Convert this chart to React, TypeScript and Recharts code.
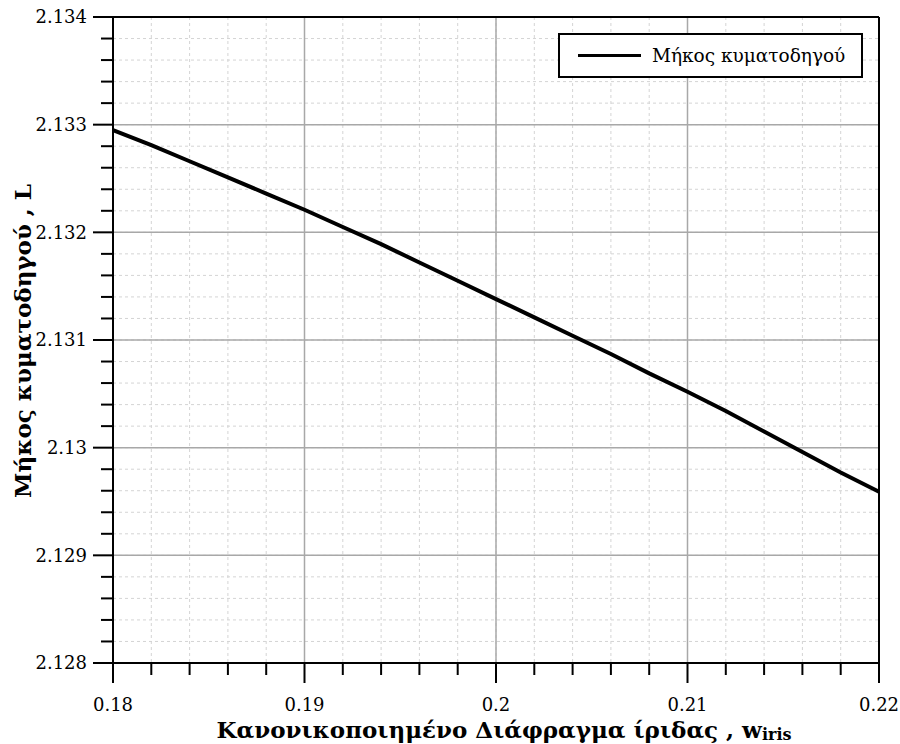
import React from 'react';
import { LineChart, Line, XAxis, YAxis, CartesianGrid, ReferenceLine, Legend, Label } from 'recharts';

// normalised iris aperture (x) and waveguide length (y)
const wIris = [0.18, 0.182, 0.184, 0.186, 0.188, 0.19, 0.192, 0.194, 0.196, 0.198, 0.2, 0.202, 0.204, 0.206, 0.208, 0.21, 0.212, 0.214, 0.216, 0.218, 0.22];
const waveguideLength = [2.13295, 2.13281, 2.13266, 2.13251, 2.13236, 2.13221, 2.13205, 2.13189, 2.13172, 2.13155, 2.13138, 2.13121, 2.13104, 2.13087, 2.13069, 2.13052, 2.13034, 2.13015, 2.12996, 2.12977, 2.12959];

const xMajor = [0.18, 0.19, 0.2, 0.21, 0.22];
const yMajor = [2.128, 2.129, 2.13, 2.131, 2.132, 2.133, 2.134];
const seriesName = 'Μήκος κυματοδηγού';

const data = wIris.map((w, i) => ({ w, L: waveguideLength[i] }));

// split each major interval into 5 minor steps
function subdivide(major: number[], n: number) {
    const out: number[] = [];
    for (let i = 0; i < major.length - 1; i++) {
        const step = (major[i + 1] - major[i]) / n;
        for (let k = 0; k < n; k++) out.push(Number((major[i] + k * step).toFixed(5)));
    }
    out.push(major[major.length - 1]);
    return out;
}
const xTicks = subdivide(xMajor, 5);
const yTicks = subdivide(yMajor, 5);

const isMajor = (v: number, list: number[]) => list.some(m => Math.abs(m - v) < 1e-7);

const FONT = 'DejaVu Serif';

function XTick({ x, y, payload }: any) {
    const major = isMajor(payload.value, xMajor);
    return (
        <g>
            <line x1={x} x2={x} y1={y} y2={y + (major ? 20 : 12)} stroke="#000" strokeWidth={2} />
            {major && (
                <text x={x} y={y + 48} textAnchor="middle" fontSize={18} fontFamily={FONT} fill="#000">
                    {String(payload.value)}
                </text>
            )}
        </g>
    );
}

function YTick({ x, y, payload }: any) {
    const major = isMajor(payload.value, yMajor);
    return (
        <g>
            <line x1={x} x2={x - (major ? 20 : 12)} y1={y} y2={y} stroke="#000" strokeWidth={2} />
            {major && (
                <text x={x - 26} y={y} dy="0.35em" textAnchor="end" fontSize={18} fontFamily={FONT} fill="#000">
                    {String(payload.value)}
                </text>
            )}
        </g>
    );
}

function XTitle() {
    return (
        <text x={504} y={738} textAnchor="middle" fontSize={23} fontWeight="bold" fontFamily={FONT} fill="#000">
            Κανονικοποιημένο Διάφραγμα ίριδας , w
            <tspan fontSize={16} dy={2}>iris</tspan>
        </text>
    );
}

function YTitle() {
    return (
        <text x={0} y={0} transform="translate(31,341) rotate(-90)" textAnchor="middle" fontSize={23} fontWeight="bold" fontFamily={FONT} fill="#000">
            Μήκος κυματοδηγού , L
        </text>
    );
}

function LegendBox() {
    return (
        <div style={{ width: 301, height: 41, border: '2px solid #000', background: '#fff', display: 'flex', alignItems: 'center', fontFamily: FONT }}>
            <div style={{ width: 63, height: 3, background: '#000', marginLeft: 18 }} />
            <span style={{ marginLeft: 11, fontSize: 18.5, color: '#000' }}>{seriesName}</span>
        </div>
    );
}

export default function App() {
    return (
        <div style={{ position: 'absolute', left: 0, top: 0, background: '#fff' }}>
            <LineChart width={900} height={744} data={data} margin={{ top: 17, right: 21, bottom: 0, left: 0 }}>
                <CartesianGrid stroke="#d4d4d4" strokeDasharray="3 3" />
                {xMajor.map(v => (
                    <ReferenceLine key={`vx-${v}`} x={v} stroke="#a8a8a8" strokeWidth={1.5} />
                ))}
                {yMajor.map(v => (
                    <ReferenceLine key={`hy-${v}`} y={v} stroke="#a8a8a8" strokeWidth={1.5} />
                ))}
                <ReferenceLine x={0.22} stroke="#000" strokeWidth={2} />
                <ReferenceLine y={2.134} stroke="#000" strokeWidth={2} />
                <XAxis
                    dataKey="w"
                    type="number"
                    domain={[0.18, 0.22]}
                    ticks={xTicks}
                    interval={0}
                    height={81}
                    tickSize={0}
                    tickMargin={0}
                    tickLine={false}
                    tick={<XTick />}
                    axisLine={{ stroke: '#000', strokeWidth: 2 }}
                >
                    <Label content={<XTitle />} />
                </XAxis>
                <YAxis
                    type="number"
                    domain={[2.128, 2.134]}
                    ticks={yTicks}
                    interval={0}
                    width={113}
                    tickSize={0}
                    tickMargin={0}
                    tickLine={false}
                    tick={<YTick />}
                    axisLine={{ stroke: '#000', strokeWidth: 2 }}
                >
                    <Label content={<YTitle />} />
                </YAxis>
                <Legend
                    layout="vertical"
                    align="center"
                    verticalAlign="middle"
                    wrapperStyle={{ left: 558, top: 33, width: 305 }}
                    content={<LegendBox />}
                />
                <Line
                    type="linear"
                    dataKey="L"
                    name={seriesName}
                    stroke="#000"
                    strokeWidth={4}
                    dot={false}
                    isAnimationActive={false}
                />
            </LineChart>
        </div>
    );
}
